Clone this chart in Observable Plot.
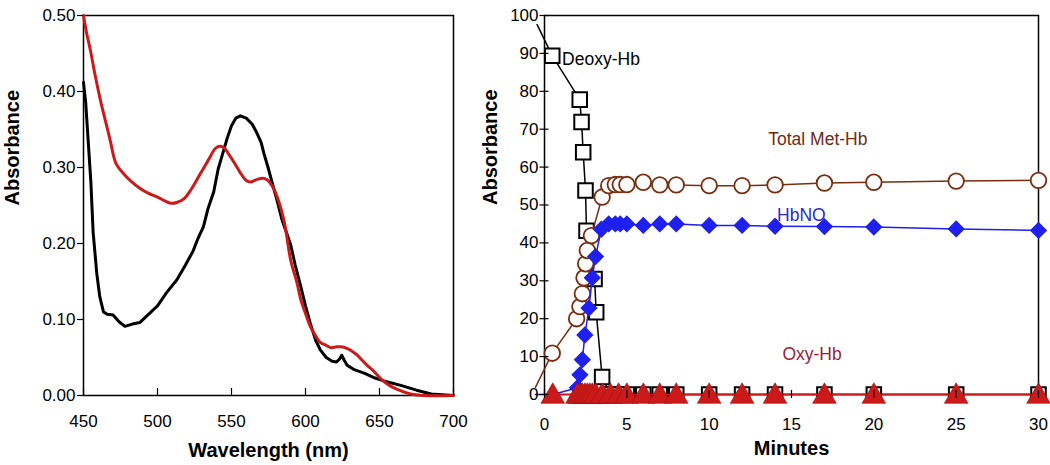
<!DOCTYPE html>
<html><head><meta charset="utf-8">
<script src="https://cdn.jsdelivr.net/npm/d3@7"></script>
<script src="https://cdn.jsdelivr.net/npm/@observablehq/plot@0.6"></script>
<style>
body{margin:0;background:#fff;}
#wrap{display:flex;width:1050px;height:465px;}
</style>
</head><body><div id="wrap"></div>
<script>
// ---------- Left panel: spectra ----------
const wlBlack = [450,451.5,453,455,456.5,459,461,463.5,466,470,474,478,483,488,493,500,506,513,519,524,527,531,534,538,541,544,547,550,553,556,560,564,567,570,572,575,578,581,584,587,590,593,596.6,600,603.5,607,610,614,618,621,623,624.5,626,628,633,640,647,655,665,675,685,700];
const absBlack = [0.412,0.385,0.34,0.28,0.215,0.16,0.13,0.11,0.107,0.106,0.097,0.091,0.094,0.096,0.105,0.118,0.135,0.152,0.172,0.19,0.205,0.222,0.245,0.268,0.298,0.318,0.338,0.355,0.365,0.368,0.365,0.357,0.346,0.333,0.318,0.298,0.276,0.255,0.232,0.215,0.198,0.172,0.145,0.118,0.093,0.072,0.06,0.05,0.045,0.044,0.048,0.053,0.047,0.04,0.034,0.029,0.023,0.018,0.013,0.007,0.002,0];
const wlRed = [450,452,454.7,458,461.5,465,468,472,477,482,488.5,494,500,505,509,513,518,523,529,535,539,542,545,548,552,556,560,563,567,571,574,578,582,586,590,594,597,600,603.5,607,610,614,617,621,624,628,631,635,638,642,645,652,657,662,671,680,700];
const absRed = [0.50,0.478,0.454,0.42,0.388,0.36,0.336,0.305,0.292,0.282,0.272,0.266,0.261,0.256,0.253,0.254,0.259,0.272,0.292,0.312,0.325,0.328,0.326,0.318,0.306,0.293,0.283,0.281,0.284,0.286,0.284,0.274,0.255,0.225,0.178,0.15,0.125,0.108,0.09,0.078,0.07,0.066,0.063,0.064,0.064,0.062,0.059,0.053,0.047,0.039,0.034,0.020,0.013,0.008,0.002,0,0];
const wlTicks = [450,500,550,600,650,700];
const absTicksL = [0,0.1,0.2,0.3,0.4,0.5];

// ---------- Right panel: kinetics ----------
const deoxyT = [-0.45,0.47,2.14,2.25,2.35,2.49,2.55,3.04,3.14,3.5,4,4.5,5,6,7,8,10,12,14,17,20,25,30];
const deoxyV = [97.6,89.4,77.8,71.9,63.9,53.8,43.2,30.5,21.7,4.6,0,0,0,0,0,0,0,0,0,0,0,0,0];
const metT = [-0.55,0.47,1.95,2.15,2.3,2.4,2.5,2.6,2.85,3.5,3.9,4.3,4.6,5.0,6,7,8,10,12,14,17,20,25,30];
const metV = [1.9,10.9,20.0,23.2,26.6,30.8,34.5,38.0,41.9,52.1,55.1,55.4,55.4,55.4,56.0,55.3,55.3,55.1,55.1,55.3,55.8,56.0,56.3,56.5];
const hbnoT = [-0.55,0.5,2.0,2.15,2.3,2.45,2.7,2.9,3.1,3.45,3.9,4.3,4.6,5.0,6,7,8,10,12,14,17,20,25,30];
const hbnoV = [0,0,1.8,5.2,9.2,15.7,22.8,30.8,36.4,43.6,45.0,45.0,45.0,45.0,44.6,45.0,45.0,44.6,44.6,44.4,44.3,44.2,43.7,43.3];
const oxyT = [0.5,2.0,2.15,2.3,2.45,2.6,2.75,2.9,3.1,3.5,4.0,4.5,5.0,6,7,8,10,12,14,17,20,25,30];
const oxyV = [0,0,0,0,0,0,0,0,0,0,0,0,0,0,0,0,0,0,0,0,0,0,0];
const minTicks = [0,5,10,15,20,25,30];
const absTicksR = [0,10,20,30,40,50,60,70,80,90,100];
const annotText = ["Deoxy-Hb","Total Met-Hb","HbNO","Oxy-Hb"];
const annotX = [1.07,16.6,15.6,16.25];
const annotY = [88.3,67.2,47.2,10.6];

const rows = (xs, ys) => xs.map((x, i) => ({x, y: ys[i]}));
const font = '"Liberation Sans", Arial, Helvetica, sans-serif';
const H = 465;

const brown = "#7a2e10", blue = "#1f1fee", red = "#cc1a1a";

const leftPlot = Plot.plot({
  width: 470, height: H,
  marginLeft: 83, marginRight: 17, marginTop: 15, marginBottom: 70,
  x: {domain: [450, 700]},
  y: {domain: [0, 0.5]},
  style: {fontFamily: font, fontSize: "17px", color: "black", background: "white", overflow: "visible"},
  marks: [
    Plot.frame({stroke: "black", strokeWidth: 1.5}),
    Plot.line(rows(wlBlack, absBlack), {x: "x", y: "y", stroke: "black", strokeWidth: 3, strokeLinejoin: "round"}),
    Plot.line(rows(wlRed, absRed), {x: "x", y: "y", stroke: red, strokeWidth: 3, curve: "catmull-rom"}),
    Plot.axisY(absTicksL, {tickSize: 6, tickPadding: 2, tickFormat: d3.format(".2f"), label: null, fontSize: 17, strokeWidth: 1.2}),
    Plot.axisX(wlTicks, {tickSize: 0, tickPadding: 19, label: null, fontSize: 17}),
    Plot.tickX(wlTicks, {x: d => d, insetTop: 380 - 7, stroke: "black", strokeWidth: 1.2}),
    Plot.text(["Absorbance"], {text: d => d, frameAnchor: "left", rotate: -90, dx: -71, fontWeight: "bold", fontSize: 20}),
    Plot.text(["Wavelength (nm)"], {text: d => d, frameAnchor: "bottom", lineAnchor: "bottom", dy: 61, fontWeight: "bold", fontSize: 20})
  ]
});

const deoxy = rows(deoxyT, deoxyV), met = rows(metT, metV), hbno = rows(hbnoT, hbnoV), oxy = rows(oxyT, oxyV);

const rightPlot = Plot.plot({
  width: 580, height: H,
  marginLeft: 74, marginRight: 12, marginTop: 15, marginBottom: 71,
  x: {domain: [0, 30]},
  y: {domain: [0, 100]},
  style: {fontFamily: font, fontSize: "17px", color: "black", background: "white", overflow: "visible"},
  marks: [
    Plot.frame({stroke: "black", strokeWidth: 1.5}),
    Plot.line(deoxy, {x: "x", y: "y", stroke: "black", strokeWidth: 1.5}),
    Plot.dot(deoxy.filter(d => d.x >= 0), {x: "x", y: "y", symbol: "square", r: 8.2, fill: "white", stroke: "black", strokeWidth: 2}),
    Plot.line(met, {x: "x", y: "y", stroke: brown, strokeWidth: 1.5}),
    Plot.dot(met.filter(d => d.x >= 0), {x: "x", y: "y", symbol: "circle", r: 7.8, fill: "white", stroke: brown, strokeWidth: 1.8}),
    Plot.line(hbno, {x: "x", y: "y", stroke: blue, strokeWidth: 1.5}),
    Plot.dot(hbno.filter(d => d.x >= 1), {x: "x", y: "y", symbol: "diamond2", r: 7.8, fill: blue, stroke: null}),
    Plot.line(oxy, {x: "x", y: "y", stroke: red, strokeWidth: 1.5}),
    Plot.dot(oxy, {x: "x", y: "y", symbol: "triangle", r: 8.8, dy: 2, fill: red, stroke: "#a01010", strokeWidth: 0.6}),
    Plot.axisY(absTicksR, {tickSize: 0, tickPadding: 6, label: null, fontSize: 17}),
    Plot.tickY(absTicksR, {y: d => d, insetRight: 494 - 9, dx: -4.5, stroke: "black", strokeWidth: 1.2}),
    Plot.axisX(minTicks, {tickSize: 0, tickPadding: 23, label: null, fontSize: 17}),
    Plot.tickX(minTicks, {x: d => d, insetTop: 379 - 8, dy: 4, stroke: "black", strokeWidth: 1.2}),
    Plot.text([0], {x: i => annotX[i], y: i => annotY[i], text: i => annotText[i], textAnchor: "start", fill: "black", fontSize: 17.5}),
    Plot.text([1], {x: i => annotX[i], y: i => annotY[i], text: i => annotText[i], fill: "#6e2b14", fontSize: 17.5}),
    Plot.text([2], {x: i => annotX[i], y: i => annotY[i], text: i => annotText[i], fill: "#2a2ad0", fontSize: 17.5}),
    Plot.text([3], {x: i => annotX[i], y: i => annotY[i], text: i => annotText[i], fill: "#9e1b32", fontSize: 17.5}),
    Plot.text(["Absorbance"], {text: d => d, frameAnchor: "left", rotate: -90, dx: -54, fontWeight: "bold", fontSize: 20}),
    Plot.text(["Minutes"], {text: d => d, frameAnchor: "bottom", lineAnchor: "bottom", dy: 60, fontWeight: "bold", fontSize: 20})
  ]
});

document.getElementById("wrap").append(leftPlot, rightPlot);
</script>
</body></html>
